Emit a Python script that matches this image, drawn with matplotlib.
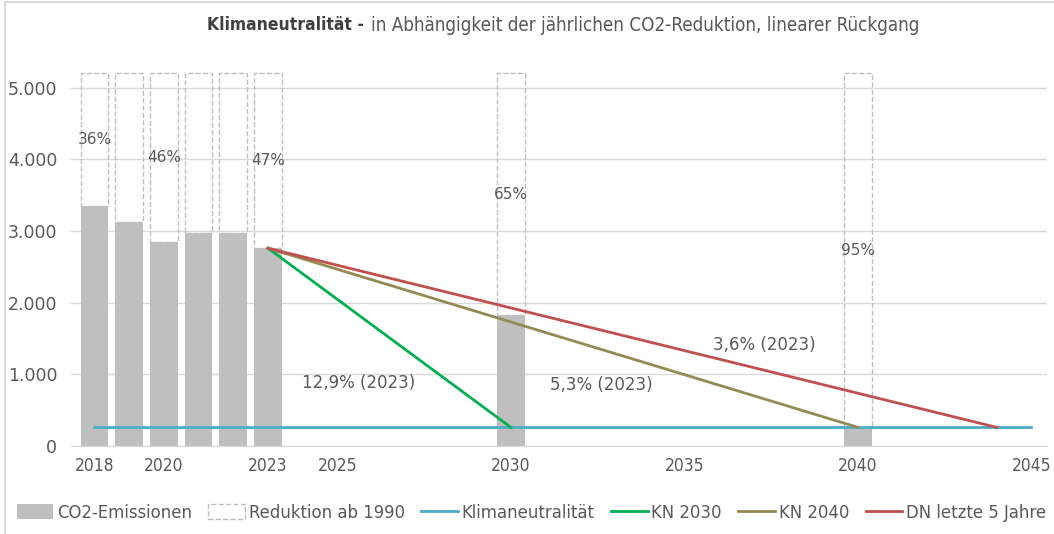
import matplotlib.pyplot as plt
from matplotlib.patches import Patch, Rectangle
from matplotlib.lines import Line2D

plt.rcParams['font.family'] = ['DejaVu Sans']
plt.rcParams['font.stretch'] = 'condensed'

# bars: emissions per year and the 1990 level (dashed outline on top)
years = [2018, 2019, 2020, 2021, 2022, 2023, 2030, 2040]
emissions = [3350, 3130, 2850, 2970, 2970, 2760, 1830, 260]
level_1990 = 5200
pct_labels = ['36%', '', '46%', '', '', '47%', '65%', '95%']

# lines
neutral_years = [2018, 2045]
neutral = [260, 260]
kn2030_years = [2023, 2030]
kn2030 = [2760, 260]
kn2040_years = [2023, 2040]
kn2040 = [2760, 260]
dn5_years = [2023, 2044]
dn5 = [2760, 260]

note_texts = ['12,9% (2023)', '5,3% (2023)', '3,6% (2023)']
note_x = [2025.6, 2032.6, 2037.3]
note_y = [880, 850, 1410]

xticks = [2018, 2020, 2023, 2025, 2030, 2035, 2040, 2045]
yticks = [0, 1000, 2000, 3000, 4000, 5000]
ytick_labels = ['0', '1.000', '2.000', '3.000', '4.000', '5.000']

bar_col = '#bfbfbf'
txt_col = '#595959'
grid_col = '#d9d9d9'

fig = plt.figure(figsize=(10.54, 5.34), dpi=100)
ax = fig.add_axes([0.0702, 0.1648, 0.9232, 0.7247])

reduction = [level_1990 - e for e in emissions]
ax.bar(years, emissions, width=0.8, color=bar_col, zorder=2)
ax.bar(years, reduction, bottom=emissions, width=0.8, facecolor='none',
       edgecolor=bar_col, linestyle='--', linewidth=1, zorder=2)

for x, e, r, lab in zip(years, emissions, reduction, pct_labels):
    if lab:
        ax.text(x, e + r / 2, lab, ha='center', va='center', color=txt_col,
                fontsize=11, stretch='normal', zorder=4)

ax.plot(neutral_years, neutral, color='#4bacc6', lw=2, zorder=3)
ax.plot(kn2030_years, kn2030, color='#00b050', lw=2, zorder=3)
ax.plot(kn2040_years, kn2040, color='#948a54', lw=2, zorder=3)
ax.plot(dn5_years, dn5, color='#c0504d', lw=2, zorder=3)

for t, x, y in zip(note_texts, note_x, note_y):
    ax.text(x, y, t, ha='center', va='center', color=txt_col, fontsize=12,
            stretch='normal', zorder=4)

ax.set_xlim(2017.41, 2045.45)
ax.set_ylim(0, 5400)
ax.set_xticks(xticks)
ax.set_xticklabels([str(x) for x in xticks])
ax.set_yticks(yticks)
ax.set_yticklabels(ytick_labels, stretch='normal')
ax.tick_params(labelsize=12.5, labelcolor=txt_col)
ax.tick_params(axis='x', length=0, pad=8)
ax.tick_params(axis='y', length=3, color=grid_col, pad=9)
ax.grid(axis='y', color=grid_col, lw=1, zorder=0)
ax.set_axisbelow(True)
for s in ['top', 'right', 'left']:
    ax.spines[s].set_visible(False)
ax.spines['bottom'].set_color(grid_col)

fig.text(0.345, 0.953, 'Klimaneutralität -', ha='right', va='center',
         fontsize=12.5, fontweight='bold', color='#404040')
fig.text(0.352, 0.953, 'in Abhängigkeit der jährlichen CO2-Reduktion, linearer Rückgang',
         ha='left', va='center', fontsize=13.5, color=txt_col)

handles = [
    Patch(facecolor=bar_col, edgecolor='none'),
    Patch(facecolor='none', edgecolor=bar_col, linestyle='--'),
    Line2D([], [], color='#4bacc6', lw=2),
    Line2D([], [], color='#00b050', lw=2),
    Line2D([], [], color='#948a54', lw=2),
    Line2D([], [], color='#c0504d', lw=2),
]
labels = ['CO2-Emissionen', 'Reduktion ab 1990', 'Klimaneutralität',
          'KN 2030', 'KN 2040', 'DN letzte 5 Jahre']
fig.legend(handles, labels, loc='center left', bbox_to_anchor=(0.0, 0.04),
           ncol=6, frameon=False, fontsize=13.2, labelcolor=txt_col,
           handlelength=2.0, handleheight=0.9, handletextpad=0.2,
           columnspacing=0.9)

fig.patches.append(Rectangle((0.005, -0.1), 1.2, 1.097, transform=fig.transFigure,
                             facecolor='none', edgecolor=grid_col, lw=1.5))

fig.savefig('out.png', dpi=100)
